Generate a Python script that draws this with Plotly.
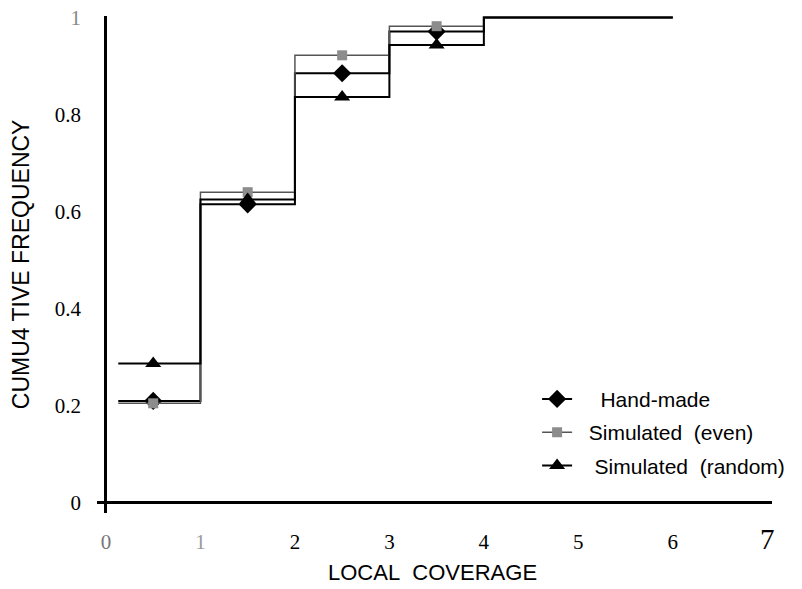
import plotly.graph_objects as go

# Step boundaries (local coverage) and cumulative frequencies per series
step_edges = [0.13, 1, 2, 3, 4, 5, 6]
hand_made = [0.21, 0.615, 0.885, 0.971, 1.0, 1.0]
sim_even = [0.205, 0.64, 0.922, 0.982, 1.0, 1.0]
sim_random = [0.287, 0.625, 0.836, 0.943, 1.0, 1.0]

# Marker positions: mid-point of the first four steps
marker_x = [0.5, 1.5, 2.5, 3.5]

# Tick labels
x_tick_vals = [0, 1, 2, 3, 4, 5, 6, 7]
x_tick_text = ['<span style="color:#777">0</span>', '<span style="color:#999">1</span>',
               "2", "3", "4", "5", "6", '<span style="font-size:29px">7</span>']
y_tick_vals = [0, 0.2, 0.4, 0.6, 0.8, 1.0]
y_tick_text = ["0", "0.2", "0.4", "0.6", "0.8", '<span style="color:#888">1</span>']

series = [
    dict(name="&nbsp;&nbsp;&nbsp;&nbsp;Hand-made", y=hand_made, color="black", width=2,
         symbol="diamond", msize=14, mcolor="black"),
    dict(name="&nbsp;&nbsp;Simulated&nbsp;&nbsp;(even)", y=sim_even, color="#555555", width=1.5,
         symbol="square", msize=10, mcolor="#8c8c8c"),
    dict(name="&nbsp;&nbsp;&nbsp;Simulated&nbsp;&nbsp;(random)", y=sim_random, color="black", width=2,
         symbol="triangle-up", msize=14, mcolor="black"),
]

fig = go.Figure()
for i, s in enumerate(series):
    grp = f"g{i}"
    fig.add_trace(go.Scatter(
        x=step_edges, y=s["y"] + [s["y"][-1]], mode="lines", line_shape="hv",
        line=dict(color=s["color"], width=s["width"]),
        showlegend=False, legendgroup=grp, hoverinfo="skip"))
    fig.add_trace(go.Scatter(
        x=marker_x, y=s["y"][:len(marker_x)], mode="markers",
        marker=dict(symbol=s["symbol"], size=s["msize"], color=s["mcolor"]),
        showlegend=False, legendgroup=grp))
    # legend entry showing line + marker
    fig.add_trace(go.Scatter(
        x=[None], y=[None], mode="lines+markers", name=s["name"],
        line=dict(color=s["color"], width=s["width"]),
        marker=dict(symbol=s["symbol"], size=s["msize"], color=s["mcolor"]),
        legendgroup=grp))

tick_font = dict(family="Liberation Serif, Times New Roman, serif", size=21, color="black")
sans = "Liberation Sans, Arial, sans-serif"

fig.update_layout(
    width=802, height=589,
    margin=dict(l=97, r=25, t=16, b=76),
    plot_bgcolor="white", paper_bgcolor="white",
    showlegend=True,
    legend=dict(x=0.652, y=0.27, xanchor="left", yanchor="top",
                font=dict(family=sans, size=21, color="black"),
                bgcolor="rgba(0,0,0,0)", tracegroupgap=3, traceorder="grouped"),
    xaxis=dict(range=[-0.095, 7.05], showgrid=False, showline=False, automargin=False,
               zeroline=True, zerolinecolor="black", zerolinewidth=3,
               tickmode="array", tickvals=x_tick_vals, ticktext=x_tick_text,
               ticks="", tickfont=tick_font, ticklabelstandoff=14),
    yaxis=dict(range=[-0.021, 1.003], showgrid=False, showline=False, automargin=False,
               zeroline=True, zerolinecolor="black", zerolinewidth=3,
               tickmode="array", tickvals=y_tick_vals, ticktext=y_tick_text,
               ticks="", tickfont=tick_font, ticklabelstandoff=15),
    annotations=[
        dict(text="LOCAL&nbsp;&nbsp;COVERAGE", xref="paper", yref="paper",
             x=0.497, y=-0.12, xanchor="center", yanchor="middle", showarrow=False,
             font=dict(family=sans, size=22, color="black")),
        dict(text="CUMU4 TIVE FREQUENCY", xref="paper", yref="paper",
             x=-0.113, y=0.5, xanchor="center", yanchor="middle", showarrow=False,
             textangle=-90, font=dict(family=sans, size=23, color="black")),
    ],
)

fig.write_html("out.html")
